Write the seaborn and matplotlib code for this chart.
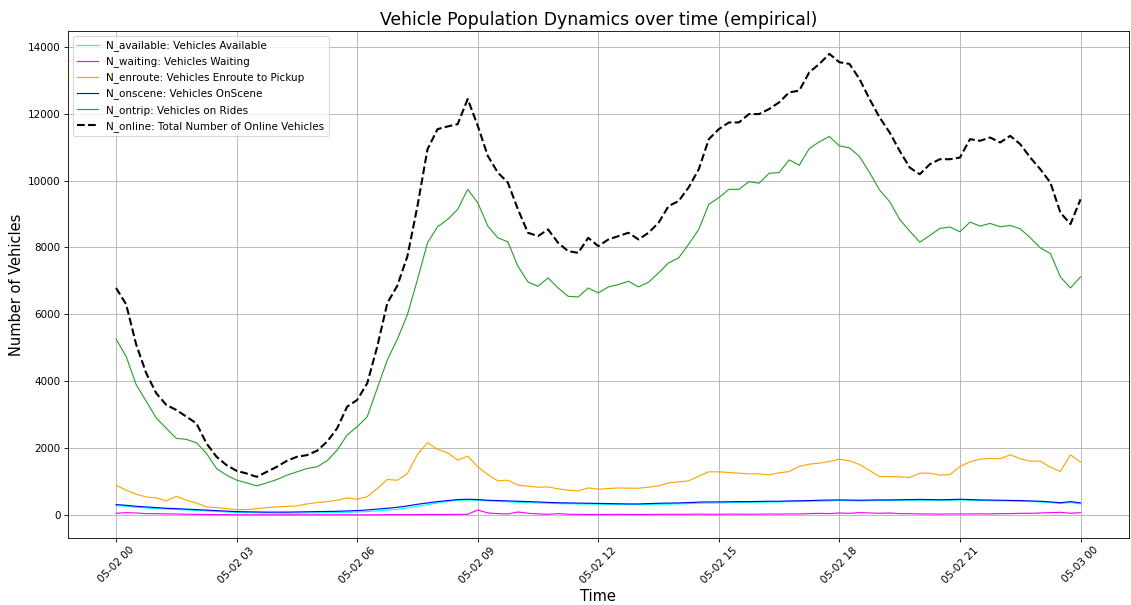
import numpy as np
import pandas as pd
import matplotlib
matplotlib.use("Agg")
import matplotlib.pyplot as plt
import matplotlib.dates as mdates
from matplotlib.lines import Line2D
import seaborn as sns

# ==========================================
# DATA (15 min steps over 05-02)
# ==========================================
times = pd.date_range("2023-05-02 00:00", "2023-05-03 00:00", freq="15min")

n_online = [6790, 6300, 5100, 4240, 3640, 3290, 3140, 2940,
            2740, 2140, 1740, 1490, 1320, 1240, 1140, 1290,
            1440, 1620, 1740, 1790, 1920, 2190, 2590, 3240,
            3440, 3940, 5040, 6340, 6860, 7740, 9240, 10940,
            11540, 11620, 11690, 12440, 11640, 10740, 10240, 9940,
            9140, 8440, 8340, 8540, 8140, 7890, 7840, 8290,
            8040, 8240, 8340, 8440, 8240, 8440, 8740, 9240,
            9390, 9800, 10340, 11240, 11540, 11740, 11740, 11990,
            11990, 12140, 12340, 12640, 12690, 13240, 13490, 13790,
            13540, 13490, 13040, 12440, 11890, 11440, 10890, 10390,
            10190, 10490, 10640, 10640, 10690, 11240, 11190, 11290,
            11140, 11340, 11090, 10690, 10340, 9940, 9040, 8700,
            9440]

n_ontrip = [5260, 4740, 3900, 3400, 2900, 2590, 2290, 2260,
            2160, 1840, 1390, 1190, 1040, 960, 870, 960,
            1060, 1190, 1290, 1390, 1440, 1620, 1940, 2390,
            2640, 2940, 3790, 4640, 5260, 5990, 7040, 8140,
            8620, 8840, 9140, 9740, 9340, 8640, 8290, 8170,
            7440, 6970, 6840, 7090, 6790, 6540, 6520, 6790,
            6640, 6820, 6890, 6990, 6820, 6960, 7240, 7540,
            7690, 8100, 8540, 9290, 9490, 9740, 9740, 9970,
            9920, 10220, 10240, 10620, 10460, 10960, 11160, 11320,
            11040, 10980, 10720, 10240, 9720, 9370, 8840, 8490,
            8160, 8360, 8570, 8610, 8470, 8760, 8640, 8720,
            8620, 8660, 8560, 8290, 7990, 7820, 7120, 6790,
            7120]

n_enroute = [890, 740, 620, 540, 510, 420, 560, 440,
             360, 240, 220, 190, 160, 160, 190, 220,
             240, 260, 270, 330, 370, 400, 440, 510,
             470, 550, 790, 1060, 1040, 1240, 1810, 2160,
             1960, 1860, 1640, 1760, 1440, 1210, 1020, 1040,
             890, 860, 830, 840, 780, 740, 720, 810,
             770, 790, 810, 800, 800, 830, 870, 960,
             990, 1020, 1160, 1290, 1290, 1270, 1250, 1230,
             1230, 1200, 1260, 1300, 1450, 1520, 1550, 1600,
             1670, 1620, 1510, 1330, 1150, 1150, 1140, 1120,
             1250, 1250, 1190, 1210, 1450, 1590, 1670, 1690,
             1680, 1800, 1680, 1610, 1610, 1430, 1300, 1800,
             1580]

n_onscene = [310, 290, 260, 240, 220, 200, 190, 175,
             160, 145, 130, 115, 100, 95, 90, 85,
             85, 85, 90, 95, 100, 105, 110, 120,
             130, 150, 175, 200, 230, 270, 320, 360,
             400, 430, 460, 470, 460, 440, 430, 420,
             410, 400, 390, 375, 365, 360, 355, 350,
             345, 340, 335, 330, 330, 340, 350, 355,
             360, 370, 385, 390, 390, 395, 400, 400,
             405, 410, 410, 420, 425, 430, 440, 445,
             450, 445, 440, 445, 450, 450, 455, 460,
             465, 460, 455, 460, 470, 460, 450, 445,
             440, 435, 430, 420, 410, 390, 365, 400,
             360]

n_available = [280, 260, 230, 210, 190, 175, 160, 150,
               135, 120, 105, 90, 75, 70, 65, 60,
               55, 55, 55, 60, 65, 70, 75, 80,
               90, 100, 120, 145, 170, 210, 260, 310,
               360, 400, 440, 450, 440, 420, 410, 395,
               380, 370, 360, 350, 340, 335, 330, 325,
               320, 315, 310, 310, 310, 315, 320, 325,
               330, 340, 350, 355, 360, 365, 370, 375,
               380, 385, 390, 395, 400, 410, 415, 420,
               430, 425, 420, 425, 430, 430, 435, 440,
               440, 440, 435, 440, 450, 440, 430, 425,
               420, 415, 410, 400, 390, 370, 340, 370,
               330]

n_waiting = [50, 70, 60, 40, 40, 30, 30, 20,
             20, 15, 10, 10, 5, 5, 5, 5,
             5, 5, 5, 5, 5, 5, 5, 5,
             5, 5, 5, 10, 10, 10, 10, 15,
             15, 15, 20, 20, 150, 60, 40, 30,
             90, 50, 30, 20, 40, 20, 20, 15,
             15, 15, 20, 15, 15, 15, 20, 20,
             20, 20, 25, 20, 20, 25, 25, 20,
             25, 30, 25, 30, 30, 40, 50, 40,
             60, 50, 70, 60, 50, 60, 40, 40,
             30, 30, 25, 30, 30, 30, 35, 30,
             40, 40, 50, 50, 60, 70, 80, 50,
             70]

series = [
    ("N_available: Vehicles Available", n_available, "cyan", "-", 1.1),
    ("N_waiting: Vehicles Waiting", n_waiting, "magenta", "-", 1.1),
    ("N_enroute: Vehicles Enroute to Pickup", n_enroute, "orange", "-", 1.1),
    ("N_onscene: Vehicles OnScene", n_onscene, "blue", "-", 1.1),
    ("N_ontrip: Vehicles on Rides", n_ontrip, "tab:green", "-", 1.1),
    ("N_online: Total Number of Online Vehicles", n_online, "black", "--", 2.0),
]

# ==========================================
# PLOT
# ==========================================
fig, ax = plt.subplots(figsize=(1131 / 75, 605 / 75), dpi=75)

handles = []
for label, vals, color, ls, lw in series:
    sns.lineplot(x=times, y=vals, ax=ax, color=color, linestyle=ls,
                 linewidth=lw, errorbar=None)
    handles.append(Line2D([], [], color=color, linestyle=ls, linewidth=lw))

ax.set_title("Vehicle Population Dynamics over time (empirical)", fontsize=16.5)
ax.set_xlabel("Time", fontsize=14)
ax.set_ylabel("Number of Vehicles", fontsize=14)
ax.xaxis.set_major_locator(mdates.HourLocator(byhour=range(0, 24, 3)))
ax.xaxis.set_major_formatter(mdates.DateFormatter("%m-%d %H"))
ax.tick_params(axis="x", labelrotation=45, labelsize=10)
ax.tick_params(axis="y", labelsize=10)
ax.grid(True)

ax.legend(handles, [s[0] for s in series], loc="upper left", fontsize=10)

fig.subplots_adjust(left=0.060, right=0.998, top=0.949, bottom=0.111)
fig.savefig("out.png", dpi=75)
